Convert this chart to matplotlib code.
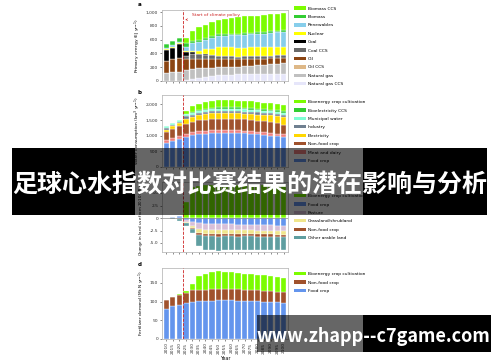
import numpy as np
import matplotlib
matplotlib.use("Agg")
import matplotlib.pyplot as plt
from matplotlib.patches import Rectangle, Patch

W, H = 500, 362

years = [2010, 2015, 2020, 2025, 2030, 2035, 2040, 2045, 2050, 2055,
         2060, 2065, 2070, 2075, 2080, 2085, 2090, 2095, 2100]

# a: primary energy (EJ/yr), bottom to top
energy_labels = ["Natural gas CCS", "Natural gas", "Oil CCS", "Oil", "Coal CCS",
                 "Coal", "Nuclear", "Renewables", "Biomass", "Biomass CCS"]
gas_ccs = [0, 0, 0, 15, 30, 45, 60, 75, 90, 92, 94, 95, 96, 97, 98, 99, 100, 100, 100]
gas = [110, 125, 135, 140, 145, 140, 130, 120, 110, 110, 112, 115, 120, 125, 130, 135, 140, 148, 155]
oil_ccs = [0] * 19
oil = [185, 190, 205, 165, 145, 135, 130, 125, 120, 115, 110, 105, 100, 98, 95, 92, 90, 88, 85]
coal_ccs = [0, 0, 0, 40, 70, 65, 60, 50, 45, 43, 42, 40, 40, 38, 37, 36, 36, 35, 35]
coal = [150, 170, 195, 60, 25, 10, 5, 0, 0, 0, 0, 0, 0, 0, 0, 0, 0, 0, 0]
nuclear = [15, 15, 10, 20, 25, 45, 75, 100, 125, 128, 128, 128, 128, 128, 127, 126, 126, 125, 125]
renewables = [20, 25, 25, 60, 105, 125, 140, 155, 165, 170, 175, 180, 185, 190, 195, 200, 205, 210, 215]
biomass = [50, 55, 55, 45, 30, 28, 27, 26, 25, 25, 25, 25, 25, 25, 25, 25, 25, 25, 25]
biomass_ccs = [0, 0, 0, 75, 145, 185, 188, 199, 205, 217, 227, 234, 243, 246, 243, 247, 244, 240, 240]

# b: water consumption (km3/yr)
water_labels = ["Food crop", "Meat and dairy", "Non-food crop", "Electricity",
                "Industry", "Municipal water", "Bioelectricity CCS", "Bioenergy crop cultivation"]
w_food = [770, 835, 900, 960, 1010, 1050, 1070, 1085, 1090, 1090, 1090, 1085, 1075, 1060, 1040, 1020, 1000, 975, 950]
w_meat = [85, 85, 90, 110, 100, 95, 90, 90, 90, 90, 88, 88, 88, 88, 90, 92, 93, 95, 95]
w_nonfood = [265, 300, 320, 315, 330, 345, 355, 360, 365, 365, 365, 365, 360, 360, 355, 350, 345, 340, 305]
w_elec = [75, 80, 90, 160, 170, 175, 180, 180, 180, 180, 180, 180, 180, 185, 190, 200, 210, 220, 245]
w_industry = [42, 45, 50, 70, 65, 60, 60, 60, 60, 60, 60, 60, 62, 65, 68, 70, 72, 73, 75]
w_municipal = [63, 70, 60, 65, 65, 68, 70, 70, 72, 73, 75, 75, 75, 70, 68, 65, 65, 65, 65]
w_bioccs = [0, 0, 0, 0, 20, 30, 40, 45, 50, 50, 50, 50, 50, 50, 50, 50, 50, 50, 50]
w_biocrop = [0, 0, 0, 105, 185, 197, 205, 210, 218, 217, 217, 217, 225, 232, 229, 213, 195, 182, 190]

# c: change in land use since 2010 (Mkm2)
land_labels = ["Bioenergy crop cultivation", "Food crop", "Pasture",
               "Grassland/shrubland", "Non-food crop", "Other arable land"]
l_bio = [0, 0, 0.1, 3.2, 6.2, 6.5, 6.6, 6.6, 6.6, 6.6, 6.6, 6.6, 6.6, 6.6, 6.6, 6.6, 6.6, 6.6, 6.6]
l_food = [0, 0.15, 0.25, -0.3, -0.7, -1.0, -1.1, -1.15, -1.2, -1.2, -1.25, -1.3, -1.3, -1.35, -1.4, -1.4, -1.45, -1.5, -1.5]
l_pasture = [0, 0, -0.1, -0.4, -0.8, -1.1, -1.2, -1.2, -1.2, -1.2, -1.15, -1.15, -1.1, -1.1, -1.1, -1.1, -1.1, -1.1, -1.1]
l_grass = [0, 0, 0, -0.2, -0.5, -0.8, -0.8, -0.8, -0.8, -0.75, -0.75, -0.75, -0.7, -0.7, -0.7, -0.7, -0.7, -0.7, -0.7]
l_nonfood = [0, 0.1, 0.15, -0.1, -0.2, -0.4, -0.45, -0.5, -0.5, -0.5, -0.5, -0.5, -0.5, -0.5, -0.5, -0.5, -0.5, -0.5, -0.5]
l_other = [0, -0.25, -0.45, -0.5, -0.8, -2.3, -2.9, -2.8, -2.8, -2.75, -2.75, -2.7, -2.7, -2.7, -2.65, -2.65, -2.6, -2.6, -2.6]

# d: fertilizer demand (Mt N/yr)
fert_labels = ["Food crop", "Non-food crop", "Bioenergy crop cultivation"]
f_food = [80, 87, 92, 96, 100, 101, 102, 103, 104, 104, 104, 103, 103, 102, 101, 100, 99, 98, 97]
f_nonfood = [24, 26, 27, 27, 30, 30, 30, 31, 31, 31, 30, 30, 29, 29, 29, 29, 29, 29, 28]
f_bio = [0, 0, 1, 5, 16, 37, 43, 46, 46, 45, 44, 44, 43, 42, 42, 41, 41, 40, 39]

LIME, GREEN, BLUE, SIENNA = "#7CFC00", "#32CD32", "#6495ED", "#A0522D"
energy_colors = ["#E6E6FA", "#C0C0C0", "#DEB887", "#8B4513", "#696969",
                 "#000000", "#FFFF00", "#87CEEB", GREEN, LIME]
water_colors = [BLUE, "#F08080", SIENNA, "#FFD700", "#708090", "#7FFFD4", GREEN, LIME]
land_colors = [LIME, BLUE, "#D8BFD8", "#F0E68C", SIENNA, "#5F9EA0"]
fert_colors = [BLUE, SIENNA, LIME]

POLICY_X = 2.5
FS = 3.2


def px_box(x0, y0, x1, y1):
    """pixel box (top-left origin) -> figure fraction rect"""
    return [x0 / W, 1 - y1 / H, (x1 - x0) / W, (y1 - y0) / H]


def style_axes(ax, yticks, yticklabels, ylabel, show_years=False):
    ax.set_xlim(-0.7, 18.7)
    ax.set_xticks(np.arange(len(years)))
    if show_years:
        ax.set_xticklabels([str(y) for y in years], rotation=90, fontsize=FS)
        ax.set_xlabel("Year", fontsize=FS + 0.3, labelpad=2)
    else:
        ax.set_xticklabels([])
    ax.set_yticks(yticks)
    ax.set_yticklabels(yticklabels, fontsize=FS)
    ax.set_ylabel(ylabel, fontsize=FS, labelpad=2)
    ax.tick_params(length=1.5, width=0.4, pad=1, colors="#333333")
    for s in ax.spines.values():
        s.set_color("#BBBBBB")
        s.set_linewidth(0.6)
    ax.axvline(POLICY_X, color="#CC2222", ls="--", lw=0.6, zorder=5)


def stack(ax, series, colors):
    x = np.arange(len(years))
    pos = np.zeros(len(years))
    neg = np.zeros(len(years))
    for vals, c in zip(series, colors):
        v = np.array(vals, dtype=float)
        bottom = np.where(v >= 0, pos, neg)
        ax.bar(x, v, bottom=bottom, width=0.82, color=c, edgecolor="white", linewidth=0.25)
        pos = pos + np.where(v > 0, v, 0)
        neg = neg + np.where(v < 0, v, 0)


def add_legend(ax, labels, colors, top_px):
    handles = [Patch(facecolor=c, edgecolor="none") for c in colors]
    ax.legend(handles, labels, loc="upper left", frameon=False, fontsize=FS,
              bbox_to_anchor=(294 / W, 1 - (top_px - 3) / H), bbox_transform=ax.figure.transFigure,
              handlelength=2.6, handleheight=0.75, labelspacing=0.95, handletextpad=0.5,
              borderaxespad=0, borderpad=0)


fig = plt.figure(figsize=(W / 100, H / 100), dpi=100)

# panel a
ax_a = fig.add_axes(px_box(161.7, 10, 288.3, 81))
stack(ax_a, [gas_ccs, gas, oil_ccs, oil, coal_ccs, coal, nuclear, renewables, biomass, biomass_ccs],
      energy_colors)
ax_a.set_ylim(0, 1030)
style_axes(ax_a, [0, 200, 400, 600, 800, 1000], ["0", "200", "400", "600", "800", "1,000"],
           "Primary energy (EJ yr$^{-1}$)")
ax_a.annotate("Start of climate policy", xy=(POLICY_X, 880), xytext=(4.0, 960),
              fontsize=FS, color="#CC2222", va="center",
              arrowprops=dict(arrowstyle="->", color="#CC2222", lw=0.4))
add_legend(ax_a, energy_labels[::-1], energy_colors[::-1], 9.5)

# panel b
ax_b = fig.add_axes(px_box(161.7, 95, 288.3, 167))
stack(ax_b, [w_food, w_meat, w_nonfood, w_elec, w_industry, w_municipal, w_bioccs, w_biocrop],
      water_colors)
ax_b.set_ylim(0, 2300)
style_axes(ax_b, [0, 500, 1000, 1500, 2000], ["0", "500", "1,000", "1,500", "2,000"],
           "Water consumption (km$^3$ yr$^{-1}$)")
add_legend(ax_b, water_labels[::-1], water_colors[::-1], 103)

# panel c
ax_c = fig.add_axes(px_box(161.7, 182, 288.3, 252))
stack(ax_c, [l_bio, l_food, l_pasture, l_grass, l_nonfood, l_other], land_colors)
ax_c.axhline(0, color="#888888", lw=0.5, zorder=4)
ax_c.set_ylim(-6.8, 7.2)
style_axes(ax_c, [-5, -2.5, 0, 2.5, 5], ["-5.0", "-2.5", "0", "2.5", "5.0"],
           "Change in land use from 2010 (Mkm$^2$)")
ax_c.yaxis.label.set_fontsize(FS - 0.3)
add_legend(ax_c, land_labels, land_colors, 197)

# panel d
ax_d = fig.add_axes(px_box(161.7, 268, 288.3, 339))
stack(ax_d, [f_food, f_nonfood, f_bio], fert_colors)
ax_d.set_ylim(0, 190)
style_axes(ax_d, [0, 50, 100, 150], ["0", "50", "100", "150"],
           "Fertilizer demand (Mt N yr$^{-1}$)", show_years=True)
add_legend(ax_d, fert_labels[::-1], fert_colors[::-1], 275)

for lab, ypx in zip("abcd", [5, 93, 176, 264]):
    fig.text(138 / W, 1 - ypx / H, lab, fontsize=FS + 0.8, weight="bold", va="center")

# title banner and watermark boxes
for (x0, x1), alpha in [((12, 135), 1.0), ((135, 363), 0.6), ((363, 487), 1.0)]:
    fig.patches.append(Rectangle((x0 / W, 1 - 215 / H), (x1 - x0) / W, 67 / H,
                                 transform=fig.transFigure, color="black", alpha=alpha,
                                 lw=0, zorder=10))
for (x0, x1), alpha in [((257, 363), 0.6), ((363, 491), 1.0)]:
    fig.patches.append(Rectangle((x0 / W, 1 - 352 / H), (x1 - x0) / W, 37 / H,
                                 transform=fig.transFigure, color="black", alpha=alpha,
                                 lw=0, zorder=10))

fig.text(249.5 / W, 1 - 185 / H, "足球心水指数对比赛结果的潜在影响与分析", color="white",
         fontsize=18, weight="bold", family=["Noto Sans CJK SC", "DejaVu Sans"],
         ha="center", va="center", zorder=11)
fig.text(373.5 / W, 1 - 337 / H, "www.zhapp--c7game.com", color="white",
         fontsize=13, weight="bold", family=["Noto Sans CJK SC", "DejaVu Sans"],
         ha="center", va="center", zorder=11)

fig.savefig("out.png", dpi=100)
